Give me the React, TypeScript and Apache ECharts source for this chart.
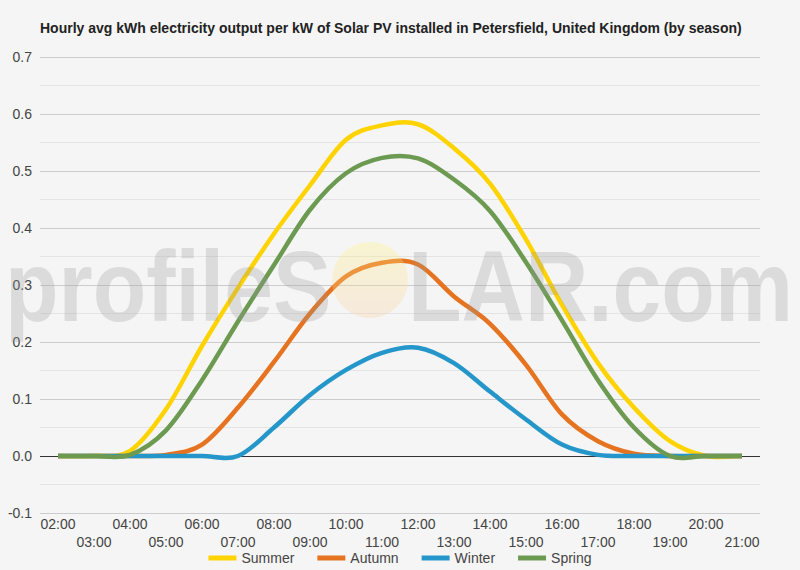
import React, { useEffect, useRef } from "react";
import * as echarts from "echarts";

// Hour of day (local time)
const hours = [
  "02:00", "03:00", "04:00", "05:00", "06:00", "07:00", "08:00", "09:00", "10:00", "11:00",
  "12:00", "13:00", "14:00", "15:00", "16:00", "17:00", "18:00", "19:00", "20:00", "21:00",
];

// Average kWh generated per installed kW, per hour
const summer = [0, 0, 0.009, 0.082, 0.193, 0.295, 0.39, 0.475, 0.555, 0.58, 0.582, 0.54, 0.478, 0.38, 0.265, 0.163, 0.085, 0.026, 0, 0];
const autumn = [0, 0, 0, 0.002, 0.02, 0.085, 0.165, 0.25, 0.315, 0.339, 0.336, 0.28, 0.232, 0.16, 0.073, 0.026, 0.004, 0, 0, 0];
const winter = [0, 0, 0, 0, 0, 0, 0.05, 0.107, 0.151, 0.181, 0.19, 0.163, 0.113, 0.064, 0.02, 0.002, 0, 0, 0, 0];
const spring = [0, 0, 0.002, 0.045, 0.133, 0.236, 0.335, 0.432, 0.496, 0.523, 0.522, 0.485, 0.43, 0.34, 0.238, 0.133, 0.05, 0, 0, 0];

const seasonNames = ["Summer", "Autumn", "Winter", "Spring"];
const seasonColors = ["#FFD300", "#E5731F", "#2596C9", "#6C9A50"];

const TITLE = "Hourly avg kWh electricity output per kW of Solar PV installed in Petersfield, United Kingdom (by season)";
const FONT = "'Liberation Sans', Arial, Helvetica, sans-serif";

// Catmull-Rom spline through the projected points, as an SVG path string
function splinePath(pts: number[][]): string {
  let d = `M${pts[0][0]},${pts[0][1]}`;
  for (let i = 0; i < pts.length - 1; i++) {
    const p0 = pts[Math.max(i - 1, 0)];
    const p1 = pts[i];
    const p2 = pts[i + 1];
    const p3 = pts[Math.min(i + 2, pts.length - 1)];
    const c1x = p1[0] + (p2[0] - p0[0]) / 6;
    const c1y = p1[1] + (p2[1] - p0[1]) / 6;
    const c2x = p2[0] - (p3[0] - p1[0]) / 6;
    const c2y = p2[1] - (p3[1] - p1[1]) / 6;
    d += ` C${c1x},${c1y} ${c2x},${c2y} ${p2[0]},${p2[1]}`;
  }
  return d;
}

export default function App() {
  const ref = useRef<HTMLDivElement>(null);

  useEffect(() => {
    document.body.style.margin = "0";
    if (!ref.current) return;
    const chart = echarts.init(ref.current, null, { renderer: "svg" });

    const seriesData = [summer, autumn, winter, spring];

    // Gridline colours: the baseline at 0.0 is drawn dark
    const gridColors = ["#cccccc", "#333333", "#cccccc", "#cccccc", "#cccccc", "#cccccc", "#cccccc", "#cccccc", "#cccccc"];

    chart.setOption({
      animation: false,
      backgroundColor: "#f5f5f5",
      textStyle: { fontFamily: FONT },
      title: {
        text: TITLE,
        left: 40,
        top: 21,
        padding: 0,
        textStyle: { fontSize: 14, fontWeight: "bold", color: "#222", fontFamily: FONT },
      },
      legend: {
        data: seasonNames,
        left: "center",
        top: 546,
        icon: "rect",
        itemWidth: 28,
        itemHeight: 5,
        itemGap: 23,
        textStyle: { fontSize: 14, color: "#444", fontFamily: FONT },
      },
      grid: { left: 40, right: 40, top: 57, bottom: 57 },
      xAxis: {
        type: "category",
        data: hours,
        boundaryGap: true,
        axisLine: { show: false },
        axisTick: { show: false },
        axisLabel: {
          interval: 0,
          margin: 2,
          fontSize: 14,
          lineHeight: 18,
          color: "#444",
          fontFamily: FONT,
          formatter: (v: string, i: number) => (i % 2 === 1 ? "\n" + v : v),
        },
      },
      yAxis: {
        type: "value",
        min: -0.1,
        max: 0.7,
        interval: 0.1,
        axisLine: { show: false },
        axisTick: { show: false },
        axisLabel: {
          fontSize: 14,
          color: "#444",
          margin: 8,
          fontFamily: FONT,
          formatter: (v: number) => v.toFixed(1),
        },
        splitLine: { show: true, lineStyle: { color: gridColors, width: 1 } },
        minorTick: { show: false, splitNumber: 2 },
        minorSplitLine: { show: true, lineStyle: { color: "#e4e4e4", width: 1 } },
      },
      series: seasonNames.map((name, i) => {
        const values = seriesData[i];
        return {
          name,
          type: "custom",
          coordinateSystem: "cartesian2d",
          encode: { x: 0, y: 1 },
          data: values.map((v, j) => [j, v]),
          itemStyle: { color: seasonColors[i] },
          z: 2 + i,
          renderItem: (params: any, api: any) => {
            if (params.dataIndex !== 0) return null;
            const pts = values.map((v, j) => api.coord([j, v]));
            return {
              type: "path",
              shape: { pathData: splinePath(pts) },
              style: {
                stroke: seasonColors[i],
                lineWidth: 4.5,
                fill: "none",
                lineJoin: "round",
              },
              silent: true,
            };
          },
        };
      }),
      graphic: [
        {
          type: "text",
          left: 5,
          top: 236,
          z: 100,
          silent: true,
          scaleX: 0.877,
          style: {
            text: "profileS",
            font: "bold 100px " + FONT,
            fill: "rgba(150,150,150,0.27)",
          },
        },
        {
          type: "circle",
          z: 100,
          silent: true,
          shape: { cx: 370, cy: 280, r: 38 },
          style: {
            fill: new echarts.graphic.LinearGradient(0, 0, 0, 1, [
              { offset: 0, color: "rgba(255,242,120,0.3)" },
              { offset: 1, color: "rgba(248,205,165,0.3)" },
            ]),
          },
        },
        {
          type: "text",
          left: 408,
          top: 236,
          z: 100,
          silent: true,
          scaleX: 0.877,
          style: {
            text: "LAR.com",
            font: "bold 100px " + FONT,
            fill: "rgba(150,150,150,0.27)",
          },
        },
      ],
    });

    return () => chart.dispose();
  }, []);

  return <div ref={ref} style={{ width: 800, height: 570 }} />;
}
